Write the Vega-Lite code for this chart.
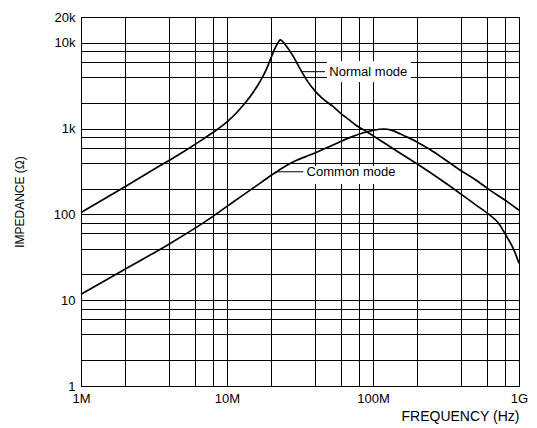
{
  "$schema": "https://vega.github.io/schema/vega-lite/v6.json",
  "width": 438,
  "height": 369,
  "autosize": {"type": "none"},
  "padding": {"left": 81, "top": 17, "right": 18, "bottom": 42},
  "background": "white",
  "config": {
    "font": "Liberation Sans",
    "view": {"stroke": "#000", "strokeWidth": 1},
    "axis": {
      "ticks": false,
      "grid": true,
      "gridColor": "#000",
      "gridOpacity": 1,
      "gridWidth": 1,
      "domainColor": "#000",
      "domainWidth": 1,
      "labelColor": "#000",
      "labelFontSize": 13,
      "labelOverlap": false,
      "labelFlush": false,
      "titleColor": "#000",
      "titleFontWeight": "normal"
    }
  },
  "datasets": {
    "curves": [
      {"series": "Normal mode", "f": 1000000, "z": 105},
      {"series": "Normal mode", "f": 2000000, "z": 210},
      {"series": "Normal mode", "f": 3000000, "z": 318},
      {"series": "Normal mode", "f": 4000000, "z": 425},
      {"series": "Normal mode", "f": 5000000, "z": 535},
      {"series": "Normal mode", "f": 6500000, "z": 710},
      {"series": "Normal mode", "f": 8000000, "z": 900},
      {"series": "Normal mode", "f": 10000000, "z": 1200},
      {"series": "Normal mode", "f": 11500000, "z": 1500},
      {"series": "Normal mode", "f": 12900000, "z": 1870},
      {"series": "Normal mode", "f": 14500000, "z": 2400},
      {"series": "Normal mode", "f": 16800000, "z": 3520},
      {"series": "Normal mode", "f": 18500000, "z": 4800},
      {"series": "Normal mode", "f": 20200000, "z": 6950},
      {"series": "Normal mode", "f": 21500000, "z": 8900},
      {"series": "Normal mode", "f": 22500000, "z": 10200},
      {"series": "Normal mode", "f": 23100000, "z": 10800},
      {"series": "Normal mode", "f": 24000000, "z": 10400},
      {"series": "Normal mode", "f": 25700000, "z": 9000},
      {"series": "Normal mode", "f": 28500000, "z": 6900},
      {"series": "Normal mode", "f": 31600000, "z": 5000},
      {"series": "Normal mode", "f": 35100000, "z": 3700},
      {"series": "Normal mode", "f": 40000000, "z": 2750},
      {"series": "Normal mode", "f": 45000000, "z": 2250},
      {"series": "Normal mode", "f": 53500000, "z": 1800},
      {"series": "Normal mode", "f": 59000000, "z": 1550},
      {"series": "Normal mode", "f": 68000000, "z": 1280},
      {"series": "Normal mode", "f": 77300000, "z": 1080},
      {"series": "Normal mode", "f": 90600000, "z": 920},
      {"series": "Normal mode", "f": 100000000, "z": 825},
      {"series": "Normal mode", "f": 150000000, "z": 530},
      {"series": "Normal mode", "f": 200000000, "z": 390},
      {"series": "Normal mode", "f": 300000000, "z": 245},
      {"series": "Normal mode", "f": 394000000, "z": 176},
      {"series": "Normal mode", "f": 500000000, "z": 131},
      {"series": "Normal mode", "f": 632000000, "z": 98},
      {"series": "Normal mode", "f": 720000000, "z": 80},
      {"series": "Normal mode", "f": 824000000, "z": 55},
      {"series": "Normal mode", "f": 914000000, "z": 40},
      {"series": "Normal mode", "f": 1000000000, "z": 27},
      {"series": "Common mode", "f": 1000000, "z": 11.7},
      {"series": "Common mode", "f": 2000000, "z": 23},
      {"series": "Common mode", "f": 4000000, "z": 45},
      {"series": "Common mode", "f": 7650000, "z": 90},
      {"series": "Common mode", "f": 10000000, "z": 124},
      {"series": "Common mode", "f": 12300000, "z": 159},
      {"series": "Common mode", "f": 15000000, "z": 201},
      {"series": "Common mode", "f": 17500000, "z": 242},
      {"series": "Common mode", "f": 20200000, "z": 288},
      {"series": "Common mode", "f": 21900000, "z": 314},
      {"series": "Common mode", "f": 23500000, "z": 340},
      {"series": "Common mode", "f": 25700000, "z": 374},
      {"series": "Common mode", "f": 30000000, "z": 428},
      {"series": "Common mode", "f": 35000000, "z": 475},
      {"series": "Common mode", "f": 40000000, "z": 520},
      {"series": "Common mode", "f": 50000000, "z": 615},
      {"series": "Common mode", "f": 59000000, "z": 700},
      {"series": "Common mode", "f": 70000000, "z": 790},
      {"series": "Common mode", "f": 80000000, "z": 860},
      {"series": "Common mode", "f": 90600000, "z": 920},
      {"series": "Common mode", "f": 100000000, "z": 955},
      {"series": "Common mode", "f": 118000000, "z": 990},
      {"series": "Common mode", "f": 135000000, "z": 955},
      {"series": "Common mode", "f": 153000000, "z": 870},
      {"series": "Common mode", "f": 175000000, "z": 785},
      {"series": "Common mode", "f": 200000000, "z": 700},
      {"series": "Common mode", "f": 250000000, "z": 560},
      {"series": "Common mode", "f": 300000000, "z": 455},
      {"series": "Common mode", "f": 394000000, "z": 329},
      {"series": "Common mode", "f": 500000000, "z": 255},
      {"series": "Common mode", "f": 632000000, "z": 192},
      {"series": "Common mode", "f": 800000000, "z": 147},
      {"series": "Common mode", "f": 1000000000, "z": 112}
    ],
    "ann": [
      {"label": "Normal mode", "tf": 50200000, "tz": 4610, "lf1": 32500000, "lf2": 46900000, "bf1": 48400000, "bf2": 182000000, "bz1": 6150, "bz2": 3500},
      {"label": "Common mode", "tf": 35100000, "tz": 314, "lf1": 21900000, "lf2": 33300000, "bf1": 34200000, "bf2": 150000000, "bz1": 366, "bz2": 226}
    ]
  },
  "layer": [
    {
      "data": {"name": "ann"},
      "mark": {"type": "rect", "fill": "white", "strokeWidth": 0},
      "encoding": {
        "x": {"field": "bf1", "type": "quantitative"},
        "x2": {"field": "bf2"},
        "y": {"field": "bz1", "type": "quantitative"},
        "y2": {"field": "bz2"}
      }
    },
    {
      "data": {"name": "curves"},
      "mark": {"type": "line", "interpolate": "monotone", "color": "#000", "strokeWidth": 1.7},
      "encoding": {
        "x": {
          "field": "f",
          "type": "quantitative",
          "scale": {"type": "log", "domain": [1000000, 1000000000], "nice": false},
          "axis": {
            "title": "FREQUENCY (Hz)",
            "titleFontSize": 14,
            "titleAnchor": "end",
            "titlePadding": 4,
            "labelPadding": 6,
            "values": [1000000, 2000000, 4000000, 6000000, 8000000, 10000000, 20000000, 40000000, 60000000, 80000000, 100000000, 200000000, 400000000, 600000000, 800000000, 1000000000],
            "labelExpr": "datum.value == 1000000 ? '1M' : datum.value == 10000000 ? '10M' : datum.value == 100000000 ? '100M' : datum.value == 1000000000 ? '1G' : ''"
          }
        },
        "y": {
          "field": "z",
          "type": "quantitative",
          "scale": {"type": "log", "domain": [1, 20000], "nice": false},
          "axis": {
            "title": "IMPEDANCE (Ω)",
            "titleFontSize": 12,
            "titlePadding": 27,
            "labelPadding": 6,
            "values": [1, 2, 4, 6, 8, 10, 20, 40, 60, 80, 100, 200, 400, 600, 800, 1000, 2000, 4000, 6000, 8000, 10000, 20000],
            "labelExpr": "datum.value == 1 ? '1' : datum.value == 10 ? '10' : datum.value == 100 ? '100' : datum.value == 1000 ? '1k' : datum.value == 10000 ? '10k' : datum.value == 20000 ? '20k' : ''"
          }
        },
        "detail": {"field": "series", "type": "nominal"}
      }
    },
    {
      "data": {"name": "ann"},
      "mark": {"type": "rule", "color": "#000", "strokeWidth": 1},
      "encoding": {
        "x": {"field": "lf1", "type": "quantitative"},
        "x2": {"field": "lf2"},
        "y": {"field": "tz", "type": "quantitative"}
      }
    },
    {
      "data": {"name": "ann"},
      "mark": {"type": "text", "align": "left", "baseline": "middle", "fontSize": 13, "color": "#000", "font": "Liberation Sans"},
      "encoding": {
        "x": {"field": "tf", "type": "quantitative"},
        "y": {"field": "tz", "type": "quantitative"},
        "text": {"field": "label"}
      }
    }
  ]
}
